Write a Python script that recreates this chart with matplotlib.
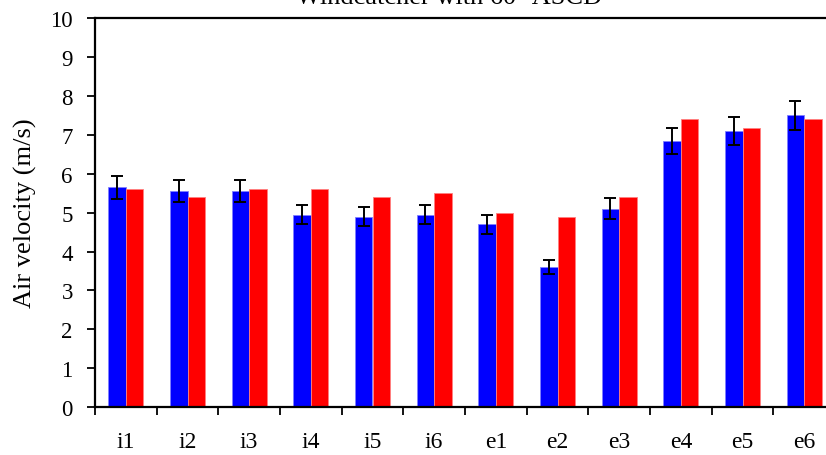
import numpy as np
import matplotlib
matplotlib.use("Agg")
import matplotlib.pyplot as plt

plt.rcParams["font.family"] = ["Liberation Serif", "DejaVu Serif"]

categories = ["i1", "i2", "i3", "i4", "i5", "i6", "e1", "e2", "e3", "e4", "e5", "e6"]
measured = [5.65, 5.55, 5.55, 4.95, 4.90, 4.95, 4.70, 3.60, 5.10, 6.85, 7.10, 7.50]
measured_err = [0.29, 0.28, 0.28, 0.25, 0.25, 0.25, 0.24, 0.19, 0.27, 0.34, 0.37, 0.38]
simulated = [5.60, 5.40, 5.60, 5.60, 5.40, 5.50, 5.00, 4.90, 5.40, 7.40, 7.18, 7.40]

fig = plt.figure(figsize=(8.26, 4.56), dpi=100)
ax = fig.add_axes([95 / 826, 1 - 408 / 456, 740 / 826, (408 - 19.3) / 456])

x = np.arange(len(categories))
w = 0.285
ax.bar(x - w / 2, measured, w, color="#0000ff", edgecolor="#8080ff", linewidth=0.6,
       yerr=measured_err, capsize=4.5,
       error_kw=dict(ecolor="black", elinewidth=1.4, capthick=1.4))
ax.bar(x + w / 2, simulated, w, color="#ff0000", edgecolor="#ff8080", linewidth=0.6)

ax.set_xlim(-0.5, len(categories) - 0.5)
ax.set_ylim(0, 10)
ax.set_yticks(range(0, 11))
ax.set_xticks(x)
ax.set_xticklabels(categories)
ax.set_xticks(np.arange(-0.5, len(categories), 1.0), minor=True)
ax.tick_params(axis="x", which="major", length=0, labelsize=17, pad=17)
ax.tick_params(axis="x", which="minor", direction="out", length=6, width=1.3)
ax.tick_params(axis="y", direction="out", length=6, width=1.3, labelsize=16.5, pad=10)

for s in ax.spines.values():
    s.set_linewidth(1.6)

ax.set_ylabel("Air velocity (m/s)", fontsize=19)
ax.yaxis.set_label_coords(-0.079, 0.5)

fig.text(449 / 826, 1 - 4 / 456, "Windcatcher with 60° ASCD", ha="center",
         va="baseline", fontsize=19)

fig.savefig("out.png", dpi=100)
